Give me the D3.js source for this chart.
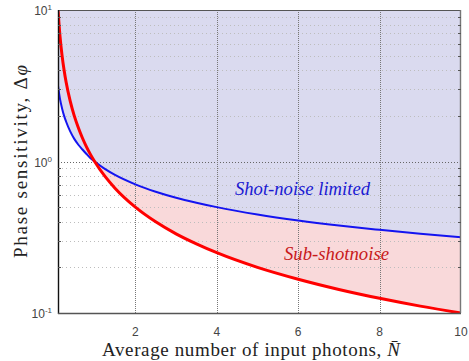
<!DOCTYPE html>
<html>
<head>
<meta charset="utf-8">
<script src="https://cdn.jsdelivr.net/npm/d3@7"></script>
<style>
  html, body { margin: 0; padding: 0; background: #fff; }
  svg { display: block; }
</style>
</head>
<body>
<svg id="chart" width="469" height="361"></svg>
<script>
// Average photon number and the two phase-sensitivity bounds
const photons   = [0.1, 0.15, 0.2, 0.25, 0.3, 0.4, 0.5, 0.6, 0.7, 0.8, 0.9, 1, 1.25, 1.5, 2, 2.5, 3, 3.5, 4, 5, 6, 7, 8, 9, 10];
const shotNoise = [3.16, 2.58, 2.24, 2.0, 1.83, 1.58, 1.41, 1.29, 1.2, 1.12, 1.05, 1.0, 0.894, 0.816, 0.707, 0.632, 0.577, 0.535, 0.5, 0.447, 0.408, 0.378, 0.354, 0.333, 0.316];
const heisenberg = [10, 6.67, 5.0, 4.0, 3.33, 2.5, 2.0, 1.67, 1.43, 1.25, 1.11, 1.0, 0.8, 0.667, 0.5, 0.4, 0.333, 0.286, 0.25, 0.2, 0.167, 0.143, 0.125, 0.111, 0.1];

const xTicks = [2, 4, 6, 8, 10];
const yMajor = [0.1, 1, 10];
const yExp   = ["-1", "0", "1"];
const yMinor = [0.2, 0.3, 0.4, 0.5, 0.6, 0.7, 0.8, 0.9, 2, 3, 4, 5, 6, 7, 8, 9];

const svg = d3.select("#chart");
const L = 58, R = 461, T = 10, B = 313;
const serif = "Liberation Serif, Times New Roman, serif";
const sans = "Liberation Sans, Arial, sans-serif";

const x = d3.scaleLinear().domain([0.1, 10]).range([L, R]);
const y = d3.scaleLog().domain([0.1, 10]).range([B, T]);

const pts = photons.map((n, i) => ({ n, s: shotNoise[i], h: heisenberg[i] }));

svg.append("defs").append("clipPath").attr("id", "plot")
  .append("rect").attr("x", L).attr("y", T).attr("width", R - L).attr("height", B - T);

const g = svg.append("g").attr("clip-path", "url(#plot)");

// Region above the shot-noise bound
g.append("path")
  .datum(pts)
  .attr("fill", "#dadaef")
  .attr("d", d3.area().curve(d3.curveMonotoneX)
    .x(d => x(d.n)).y0(T).y1(d => y(d.s)));

// Sub-shot-noise region between the two bounds
g.append("path")
  .datum(pts.filter(d => d.n >= 1))
  .attr("fill", "#f9d9da")
  .attr("d", d3.area().curve(d3.curveMonotoneX)
    .x(d => x(d.n)).y0(d => y(d.s)).y1(d => y(d.h)));

// Minor horizontal grid
g.selectAll(".hminor").data(yMinor).enter().append("line")
  .attr("x1", L).attr("x2", R)
  .attr("y1", d => Math.round(y(d)) + 0.5).attr("y2", d => Math.round(y(d)) + 0.5)
  .attr("stroke", "#bdbdbd").attr("stroke-width", 1).attr("stroke-dasharray", "1,3");

// Major horizontal grid at 10^0
g.append("line")
  .attr("x1", L).attr("x2", R)
  .attr("y1", Math.round(y(1)) + 0.5).attr("y2", Math.round(y(1)) + 0.5)
  .attr("stroke", "#666").attr("stroke-width", 1).attr("stroke-dasharray", "1,2");

// Vertical grid
g.selectAll(".vgrid").data(xTicks.slice(0, -1)).enter().append("line")
  .attr("x1", d => Math.round(x(d)) + 0.5).attr("x2", d => Math.round(x(d)) + 0.5)
  .attr("y1", T).attr("y2", B)
  .attr("stroke", "#777").attr("stroke-width", 1).attr("stroke-dasharray", "1,1");

// Bounds
const line = key => d3.line().curve(d3.curveMonotoneX).x(d => x(d.n)).y(d => y(d[key]));
g.append("path").datum(pts).attr("fill", "none")
  .attr("stroke", "#1414f0").attr("stroke-width", 2).attr("d", line("s"));
g.append("path").datum(pts).attr("fill", "none")
  .attr("stroke", "#ff0000").attr("stroke-width", 3).attr("d", line("h"));

// Frame
svg.append("line").attr("x1", L).attr("x2", R).attr("y1", T + 0.5).attr("y2", T + 0.5)
  .attr("stroke", "#555").attr("stroke-width", 1.2);
svg.append("line").attr("x1", R - 0.5).attr("x2", R - 0.5).attr("y1", T).attr("y2", B)
  .attr("stroke", "#777").attr("stroke-width", 1.4);
svg.append("line").attr("x1", L + 0.5).attr("x2", L + 0.5).attr("y1", T).attr("y2", B + 1)
  .attr("stroke", "#111").attr("stroke-width", 1.4);
svg.append("line").attr("x1", L).attr("x2", R).attr("y1", B + 0.5).attr("y2", B + 0.5)
  .attr("stroke", "#555").attr("stroke-width", 1.4);

// Minor ticks on both vertical edges
svg.selectAll(".tickR").data(yMinor).enter().append("line")
  .attr("x1", R - 3).attr("x2", R)
  .attr("y1", d => Math.round(y(d)) + 0.5).attr("y2", d => Math.round(y(d)) + 0.5)
  .attr("stroke", "#555");
svg.selectAll(".tickL").data(yMinor).enter().append("line")
  .attr("x1", L).attr("x2", L + 3)
  .attr("y1", d => Math.round(y(d)) + 0.5).attr("y2", d => Math.round(y(d)) + 0.5)
  .attr("stroke", "#555");

// Y tick labels (powers of ten)
const yl = svg.selectAll(".ylab").data(yMajor).enter().append("text")
  .attr("x", L - 6).attr("y", d => y(d) + 5)
  .attr("text-anchor", "end")
  .attr("font-family", sans)
  .attr("font-size", 12).attr("fill", "#444");
yl.append("tspan").text("10");
yl.append("tspan").attr("dy", -5).attr("font-size", 8).text((d, i) => yExp[i]);

// X tick labels
svg.selectAll(".xlab").data(xTicks).enter().append("text")
  .attr("x", d => x(d)).attr("y", B + 23)
  .attr("text-anchor", "middle")
  .attr("font-family", sans)
  .attr("font-size", 12).attr("fill", "#444")
  .text(d => d);

// Axis titles
const xt = svg.append("text")
  .attr("x", 102).attr("y", 356)
  .attr("textLength", 298).attr("lengthAdjust", "spacing")
  .attr("font-family", serif)
  .attr("font-size", 19).attr("fill", "#222");
xt.append("tspan").text("Average number of input photons, ");
xt.append("tspan").attr("font-style", "italic").text("N\u0304");

const yt = svg.append("text")
  .attr("transform", "translate(27,258) rotate(-90)")
  .attr("textLength", 193).attr("lengthAdjust", "spacing")
  .attr("font-family", serif)
  .attr("font-size", 19).attr("fill", "#222");
yt.append("tspan").text("Phase sensitivity, \u0394");
yt.append("tspan").attr("font-style", "italic").text("\u03c6");

// Region labels
svg.append("text")
  .attr("x", 235).attr("y", 195)
  .attr("textLength", 135).attr("lengthAdjust", "spacingAndGlyphs")
  .attr("font-family", serif)
  .attr("font-style", "italic").attr("font-size", 18.5).attr("fill", "#1a1ad2")
  .text("Shot-noise limited");
svg.append("text")
  .attr("x", 284).attr("y", 260)
  .attr("textLength", 105).attr("lengthAdjust", "spacingAndGlyphs")
  .attr("font-family", serif)
  .attr("font-style", "italic").attr("font-size", 18.5).attr("fill", "#c81a1a")
  .text("Sub-shotnoise");
</script>
</body>
</html>
